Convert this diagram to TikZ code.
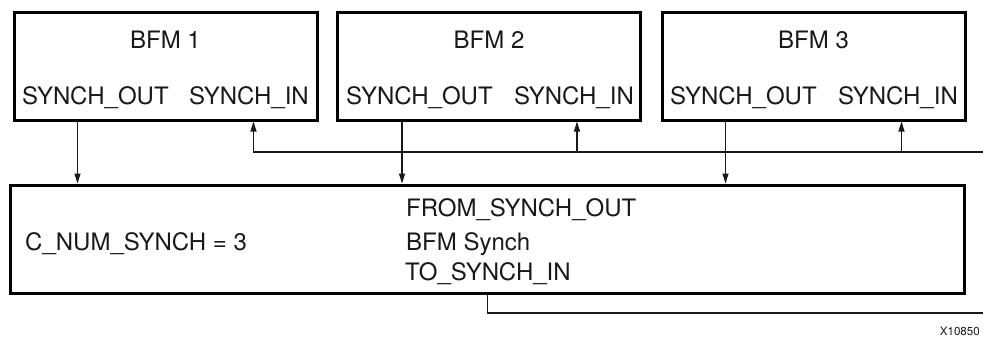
\documentclass[tikz,border=0pt]{standalone}
\usepackage{fontspec}
\setmainfont{TeX Gyre Heros}
\usetikzlibrary{arrows.meta, positioning}
\tikzset{
  bfmbox/.style={rectangle, draw=black, line width=3pt, minimum width=303pt, minimum height=108pt},
  synchbox/.style={rectangle, draw=black, line width=3pt, minimum width=954pt, minimum height=108pt},
  lbl/.style={inner sep=0pt, text=black!90, font=\fontsize{24}{28}\selectfont},
  tag/.style={inner sep=0pt, text=black!90, font=\fontsize{11.6}{14}\selectfont},
  arr/.style={-{Triangle[length=10pt, width=6pt]}, line width=1.3pt, draw=black!90},
  wire/.style={line width=1.3pt, draw=black!90},
}
\begin{document}
\begin{tikzpicture}[x=1pt, y=-1pt]
  \useasboundingbox (0,0) rectangle (983,343);

  % BFM boxes
  \node[bfmbox] (bfm1) at (165.5,66) {};
  \node[bfmbox] (bfm2) at (489,66) {};
  \node[bfmbox] (bfm3) at (813.5,66) {};

  \node[lbl, anchor=base] (name1) at (165.5,48) {BFM 1};
  \node[lbl, anchor=base] (name2) at (489,48) {BFM 2};
  \node[lbl, anchor=base] (name3) at (813.5,48) {BFM 3};

  \node[lbl, anchor=base west] (sout1) at (22,104) {SYNCH\_OUT};
  \node[lbl, anchor=base east] (sin1) at (309,104) {SYNCH\_IN};
  \node[lbl, anchor=base west] (sout2) at (346,104) {SYNCH\_OUT};
  \node[lbl, anchor=base east] (sin2) at (634,104) {SYNCH\_IN};
  \node[lbl, anchor=base west] (sout3) at (670,104) {SYNCH\_OUT};
  \node[lbl, anchor=base east] (sin3) at (958,104) {SYNCH\_IN};

  % BFM Synch block
  \node[synchbox] (synch) at (487,239) {};
  \node[lbl, anchor=base west] (num) at (25,250) {C\_NUM\_SYNCH = 3};
  \node[lbl, anchor=base west] (from) at (406,216) {FROM\_SYNCH\_OUT};
  \node[lbl, anchor=base west] (title) at (406,250) {BFM Synch};
  \node[lbl, anchor=base west] (to) at (405,280) {TO\_SYNCH\_IN};

  \node[tag, anchor=base east] (fig) at (980,335) {X10850};

  % Ports
  \coordinate (out1) at ([xshift=65pt]bfm1.south west);
  \coordinate (out2) at ([xshift=66pt]bfm2.south west);
  \coordinate (out3) at ([xshift=65pt]bfm3.south west);
  \coordinate (in1) at ([xshift=-65pt]bfm1.south east);
  \coordinate (in2) at ([xshift=-65pt]bfm2.south east);
  \coordinate (in3) at ([xshift=-65pt]bfm3.south east);
  \coordinate (toin) at ([xshift=479pt]synch.south west);
  \coordinate (fbend) at (983,152);
  \coordinate (toend) at (983,313);

  % Arrows
  \draw[arr] (out1) -- (out1 |- synch.north);
  \draw[arr] (out2) -- (out2 |- synch.north);
  \draw[arr] (out3) -- (out3 |- synch.north);
  \draw[arr] (fbend) -| (in1);
  \draw[arr] (in2 |- fbend) -- (in2);
  \draw[arr] (in3 |- fbend) -- (in3);
  \draw[wire] (toin) |- (toend);
\end{tikzpicture}
\end{document}
